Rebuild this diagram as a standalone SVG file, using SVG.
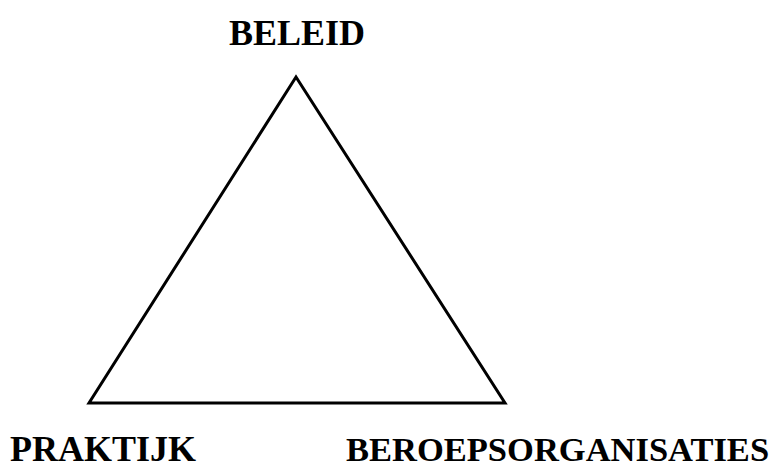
<svg xmlns="http://www.w3.org/2000/svg" width="779" height="468" viewBox="0 0 779 468">
<style>
.lbl{font-family:"Liberation Serif","Times New Roman",serif;font-weight:bold;font-size:36px;fill:#000}
.tri{fill:none;stroke:#000;stroke-width:3;stroke-linejoin:miter}
</style>
<rect width="779" height="468" fill="#fff"/>
<g id="connectors">
<polygon class="tri" points="296,77 89,403 505,403"/>
</g>
<g id="beleid"><text class="lbl" x="229" y="45">BELEID</text></g>
<g id="praktijk"><text class="lbl" x="10" y="461">PRAKTIJK</text></g>
<g id="beroepsorganisaties"><text class="lbl" x="346" y="461" style="font-size:34.5px">BEROEPSORGANISATIES</text></g>
</svg>
